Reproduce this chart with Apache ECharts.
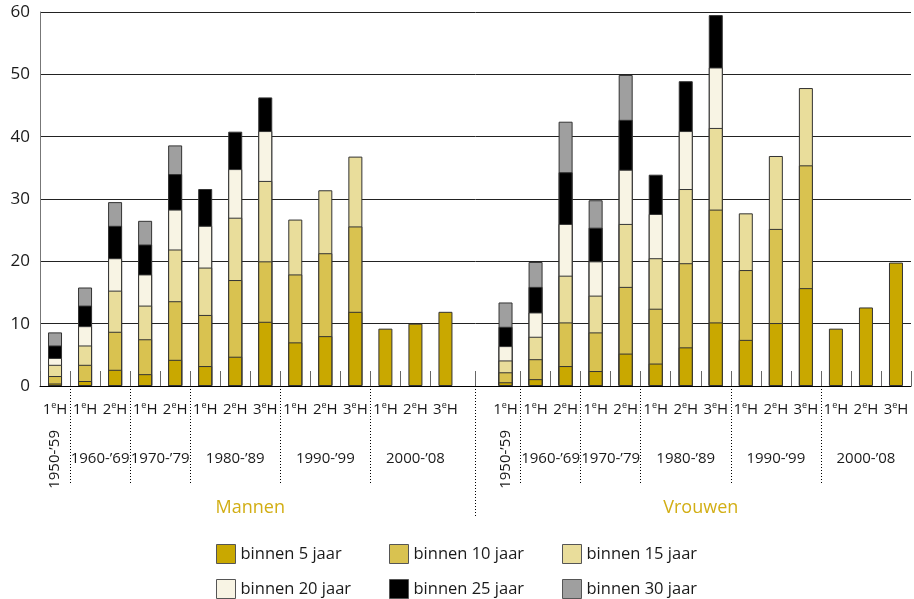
<!DOCTYPE html>
<html>
<head>
<meta charset="utf-8">
<title>binnen jaar</title>
<script src="https://cdn.jsdelivr.net/npm/echarts@6/dist/echarts.min.js"></script>
<style>
  html, body { margin: 0; padding: 0; background: #fff; }
  #chart { width: 914px; height: 599px; }
</style>
</head>
<body>
<div id="chart"></div>
<script>
const halfYears = ['1eH', '1eH', '2eH', '1eH', '2eH', '1eH', '2eH', '3eH', '1eH', '2eH', '3eH', '1eH', '2eH', '3eH']
const categories = halfYears.concat([''], halfYears)
const periods = ['1950-’59', '1960-’69', '1970-’79', '1980-’89', '1990-’99', '2000-’08']
const periodSizes = [1, 2, 2, 3, 3, 3]
const groups = ['Mannen', 'Vrouwen']
const yTicks = [0, 10, 20, 30, 40, 50, 60]
const names = ['binnen 5 jaar', 'binnen 10 jaar', 'binnen 15 jaar', 'binnen 20 jaar', 'binnen 25 jaar', 'binnen 30 jaar']

// cumulatief, Mannen | leeg | Vrouwen
const binnen5 = [0.4, 0.8, 2.6, 1.9, 4.2, 3.2, 4.7, 10.3, 7.0, 8.0, 11.9, 9.2, 10.0, 11.9, null,
  0.6, 1.1, 3.2, 2.4, 5.2, 3.6, 6.2, 10.2, 7.4, 10.1, 15.7, 9.2, 12.6, 19.8]
const binnen10 = [1.6, 3.4, 8.7, 7.5, 13.6, 11.4, 17.0, 20.0, 17.9, 21.3, 25.6, null, null, null, null,
  2.2, 4.3, 10.2, 8.6, 15.9, 12.4, 19.7, 28.3, 18.6, 25.2, 35.4, null, null, null]
const binnen15 = [3.4, 6.5, 15.3, 12.9, 21.9, 19.0, 27.0, 32.9, 26.7, 31.4, 36.8, null, null, null, null,
  4.1, 7.9, 17.7, 14.5, 26.0, 20.5, 31.6, 41.4, 27.7, 36.9, 47.8, null, null, null]
const binnen20 = [4.5, 9.6, 20.5, 17.9, 28.3, 25.7, 34.8, 40.9, null, null, null, null, null, null, null,
  6.4, 11.8, 26.0, 20.0, 34.7, 27.6, 40.9, 51.1, null, null, null, null, null, null]
const binnen25 = [6.5, 12.9, 25.7, 22.7, 34.0, 31.6, 40.8, 46.3, null, null, null, null, null, null, null,
  9.5, 15.9, 34.3, 25.4, 42.7, 33.9, 48.9, 59.5, null, null, null, null, null, null]
const binnen30 = [8.6, 15.8, 29.5, 26.5, 38.6, null, null, null, null, null, null, null, null, null, null,
  13.4, 19.9, 42.4, 29.8, 49.9, null, null, null, null, null, null, null, null, null]

const values = [binnen5, binnen10, binnen15, binnen20, binnen25, binnen30]
const colors = ['#c9a800', '#d9c250', '#e9dd9b', '#f8f4e4', '#000000', '#9f9f9f']
const gold = '#d2ae14'
const ink = '#1a1a1a'
const font = 'Open Sans'

// hulp-as met punten op elke halve categorie
const points = []
for (let j = 0; j <= categories.length * 2; j++) points.push(String(j))

const decadeLabel = {}
const rotatedLabel = {}
const decadeLines = []
const groupLabel = {}
groups.forEach((g, gi) => {
  let start = gi * (halfYears.length + 1)
  groupLabel[2 * start + halfYears.length] = g
  periodSizes.forEach((n, pi) => {
    if (pi === 0) {
      rotatedLabel[2 * start + 1] = periods[pi]
    } else {
      decadeLabel[2 * start + n] = periods[pi]
      decadeLines.push(2 * start)
    }
    start += n
  })
})
const separator = 2 * halfYears.length + 1

function pointAxis(extra) {
  return Object.assign({
    type: 'category',
    data: points,
    boundaryGap: false,
    position: 'bottom',
    axisLine: { show: false },
    splitLine: { show: false }
  }, extra)
}

// 3 kolommen x 2 rijen, elk item een eigen legend
function legendItem(name, i) {
  return {
    left: 216 + (i % 3) * 173,
    top: 544 + Math.floor(i / 3) * 35,
    padding: 0,
    itemWidth: 19,
    itemHeight: 19,
    icon: 'rect',
    data: [name],
    itemStyle: { borderColor: '#555', borderWidth: 1 },
    textStyle: { fontFamily: font, fontSize: 16.5, color: ink }
  }
}

const chart = echarts.init(document.getElementById('chart'), null, { renderer: 'canvas' })

const option = {
  animation: false,
  textStyle: { fontFamily: font },
  grid: { left: 40, right: 2, top: 12, bottom: 213 },
  legend: names.map(legendItem),
  xAxis: [
    {
      type: 'category',
      data: categories,
      position: 'bottom',
      axisLine: { lineStyle: { color: '#000', width: 1 } },
      axisTick: { show: false },
      axisLabel: {
        interval: 0,
        margin: 15,
        fontSize: 15,
        lineHeight: 18,
        color: ink,
        formatter: function (v) {
          return v ? v[0] + '{s|' + v[1] + '}' + v[2] : ''
        },
        rich: { s: { fontSize: 9, lineHeight: 10, verticalAlign: 'top', color: ink } }
      }
    },
    pointAxis({
      axisTick: {
        inside: true,
        length: 15,
        lineStyle: { color: '#666' },
        interval: function (j) {
          if (j === separator) return true
          return j % 2 === 0 && j !== separator - 1 && j !== separator + 1
        }
      },
      axisLabel: {
        interval: 0,
        margin: 64,
        fontSize: 15,
        lineHeight: 18,
        color: ink,
        formatter: function (v, j) { return decadeLabel[j] || '' }
      }
    }),
    pointAxis({
      axisTick: {
        length: 97,
        lineStyle: { color: '#000', type: [1, 2] },
        interval: function (j) { return decadeLines.indexOf(j) >= 0 }
      },
      axisLabel: {
        interval: 0,
        margin: 111,
        fontSize: 18,
        lineHeight: 22,
        color: gold,
        formatter: function (v, j) { return groupLabel[j] || '' }
      }
    }),
    pointAxis({
      axisTick: {
        length: 132,
        lineStyle: { color: '#000', type: [1, 2] },
        interval: function (j) { return j === separator }
      },
      axisLabel: {
        interval: 0,
        rotate: 90,
        margin: 44,
        fontSize: 15,
        color: ink,
        formatter: function (v, j) { return rotatedLabel[j] || '' }
      }
    })
  ],
  yAxis: {
    type: 'value',
    min: yTicks[0],
    max: yTicks[yTicks.length - 1],
    interval: yTicks[1] - yTicks[0],
    axisLine: { show: true, lineStyle: { color: '#777' } },
    axisTick: { show: false },
    axisLabel: { fontSize: 17, color: ink, margin: 10 },
    splitLine: { lineStyle: { color: '#222', width: 1 } }
  },
  // grootste eerst tekenen, kleinere er overheen
  series: [5, 4, 3, 2, 1, 0].map(function (i) {
    return {
      name: names[i],
      type: 'bar',
      xAxisIndex: 0,
      data: values[i],
      barWidth: 14,
      barGap: '-100%',
      itemStyle: { color: colors[i], borderColor: '#333', borderWidth: 1 },
      emphasis: { disabled: true }
    }
  })
}

chart.setOption(option)
</script>
</body>
</html>
